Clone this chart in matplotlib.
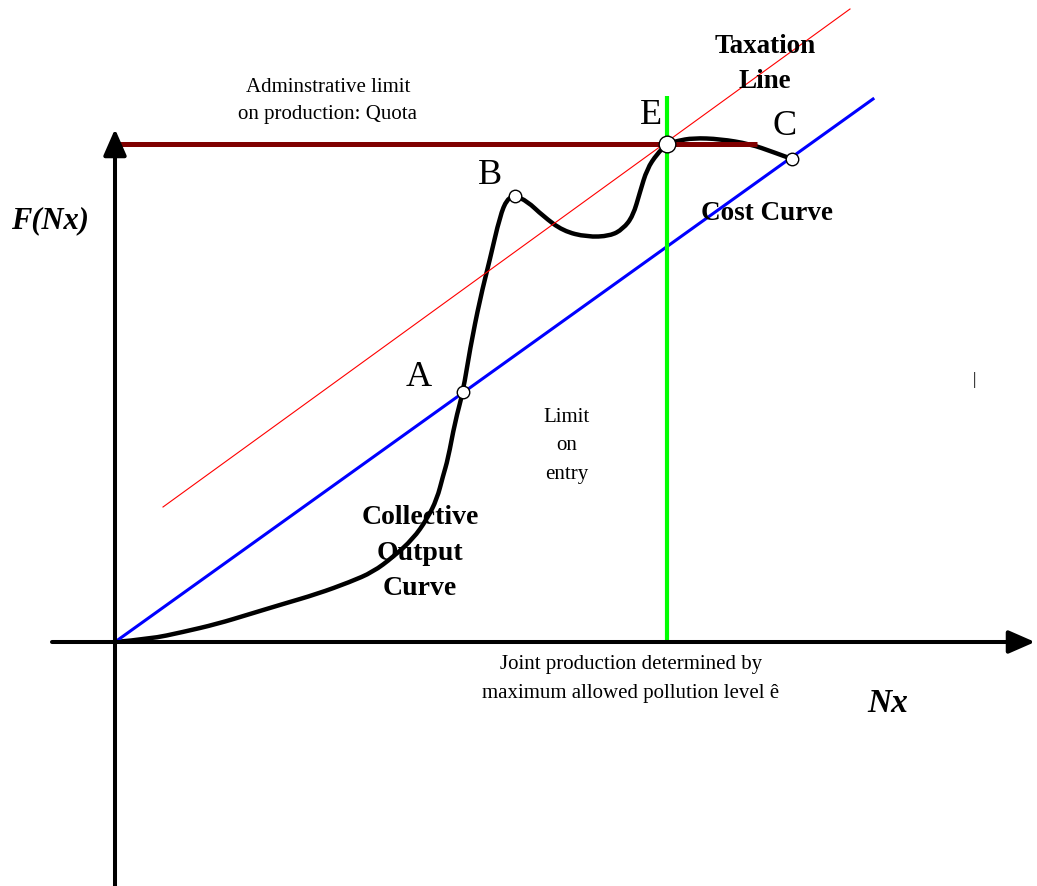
import matplotlib.pyplot as plt
from matplotlib.path import Path
from matplotlib.patches import PathPatch

# collective output curve (x = Nx, y = F(Nx))
output_x = [0, 35, 68, 102, 135, 168, 202, 235, 258, 278, 298, 312, 322, 328, 333, 340, 348,
            355, 365, 375, 385, 392, 400, 412, 428, 448, 472, 495, 508, 518, 525, 532, 542,
            552, 562, 578, 605, 635, 658, 677]
output_y = [0, 3, 10, 18, 28, 38, 48, 60, 70, 85, 103, 123, 143, 166, 183, 220, 250,
            293, 343, 383, 426, 443, 446, 441, 426, 411, 405, 406, 413, 426, 450, 473, 488,
            498, 501, 504, 503, 498, 490, 483]

# straight lines
cost_x = [0, 758]
cost_y = [0, 543]
tax_x = [48, 735]
tax_y = [135, 633]
quota_level = 498
quota_x = [0, 642]
entry_limit = 552
entry_top = 546

# labelled points
point_names = ["A", "B", "E", "C"]
point_x = [348, 400, 552, 677]
point_y = [250, 446, 498, 483]

plt.rcParams['font.family'] = ['Liberation Serif', 'DejaVu Serif']

fig = plt.figure(figsize=(10.37, 8.87), dpi=100)
ax = fig.add_axes([0, 0, 1, 1])
ax.set_xlim(-115, 922)
ax.set_ylim(-244, 643)
ax.axis('off')

# axes with arrows
arr = dict(arrowstyle='-|>,head_length=0.8,head_width=0.35', lw=2.9, color='black',
           mutation_scale=20, shrinkA=0, shrinkB=0)
ax.annotate('', xy=(0, 513), xytext=(0, -244), arrowprops=arr, annotation_clip=False)
ax.annotate('', xy=(920, 0), xytext=(-63, 0), arrowprops=arr, annotation_clip=False)

ax.plot(cost_x, cost_y, color='#0000ff', lw=2.2)
ax.plot(tax_x, tax_y, color='#ff0000', lw=0.8)
ax.plot(quota_x, [quota_level, quota_level], color='#800000', lw=3.6, solid_capstyle='butt')
ax.plot([entry_limit, entry_limit], [0, entry_top], color='#00ff00', lw=3, solid_capstyle='butt')

# smooth the drawn curve through the read points (quadratic B-spline path)
pts = list(zip(output_x, output_y))
verts = [pts[0]]
codes = [Path.MOVETO]
for i in range(1, len(pts) - 1):
    if i < len(pts) - 2:
        end = ((pts[i][0] + pts[i + 1][0]) / 2, (pts[i][1] + pts[i + 1][1]) / 2)
    else:
        end = pts[-1]
    verts += [pts[i], end]
    codes += [Path.CURVE3, Path.CURVE3]
ax.add_patch(PathPatch(Path(verts, codes), fill=False, edgecolor='black', lw=3.2,
                       joinstyle='round', capstyle='round'))

# point markers
for n, x, y in zip(point_names, point_x, point_y):
    ms = 12 if n == "E" else 9
    ax.plot(x, y, 'o', ms=ms, mfc='white', mec='black', mew=1.0, zorder=5)

ax.text(304, 265, "A", fontsize=26, ha='center', va='center')
ax.text(375, 468, "B", fontsize=26, ha='center', va='center')
ax.text(536, 528, "E", fontsize=26, ha='center', va='center')
ax.text(670, 517, "C", fontsize=26, ha='center', va='center')

ax.text(213, 542, "Adminstrative limit\non production: Quota", fontsize=15, ha='center',
        va='center', linespacing=1.6)
ax.text(650, 579, "Taxation\nLine", fontsize=19.5, fontweight='bold', ha='center',
        va='center', linespacing=1.5)
ax.text(652, 430, "Cost Curve", fontsize=19.5, fontweight='bold', ha='center', va='center')
ax.text(305, 90, "Collective\nOutput\nCurve", fontsize=20, fontweight='bold', ha='center',
        va='center', linespacing=1.55)
ax.text(452, 197, "Limit\non\nentry", fontsize=15, ha='center', va='center', linespacing=1.65)
ax.text(516, -36, "Joint production determined by\nmaximum allowed pollution level ê",
        fontsize=15, ha='center', va='center', linespacing=1.65)
ax.text(-65, 422, "F(Nx)", fontsize=22, fontweight='bold', style='italic', ha='center', va='center')
ax.text(773, -61, "Nx", fontsize=24, fontweight='bold', style='italic', ha='center', va='center')
ax.text(859, 263, "|", fontsize=12, ha='center', va='center')

fig.savefig("out.png", dpi=100)
